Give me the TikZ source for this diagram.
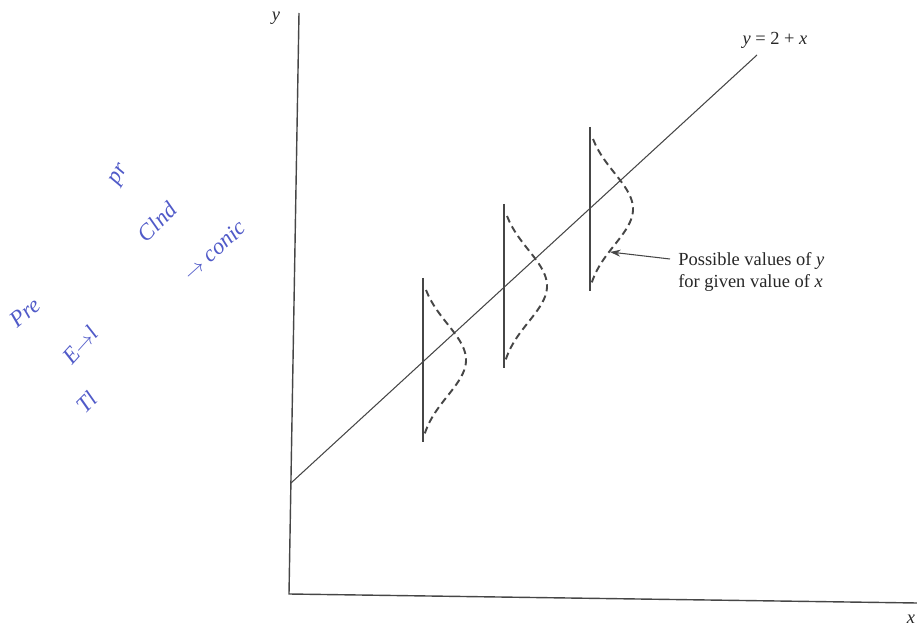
\documentclass[tikz,border=0pt]{standalone}
\usepackage{fontspec}
\setmainfont{Liberation Serif}
\usetikzlibrary{arrows.meta}
\definecolor{ink}{RGB}{70,70,70}
\definecolor{pen}{RGB}{80,90,200}

\begin{document}
\begin{tikzpicture}[x=0.02cm,y=-0.02cm,
		axis/.style={draw=ink,line width=0.8pt},
		bar/.style={draw=ink,line width=1.1pt},
		density/.style={draw=ink,line width=1.1pt,dash pattern=on 4pt off 2.5pt},
		lab/.style={text=black!85,font=\fontsize{10.5}{12.6}\selectfont},
		scribble/.style={text=pen,font=\fontsize{13}{15}\selectfont\itshape}]

	\useasboundingbox (0,0) rectangle (917,628);

	% axes
	\coordinate (O) at (289,594);
	\coordinate (ytop) at (299,13);
	\coordinate (xend) at (917,603);
	\draw[axis] (ytop) -- (O) -- (xend);
	\node[lab] (ylab) at (276,18) {\textit{y}};
	\node[lab] (xlab) at (911,619) {\textit{x}};

	% regression line
	\coordinate (l0) at (291,483);
	\coordinate (l1) at (757,55);
	\draw[draw=ink,line width=0.6pt] (l0) -- (l1);
	\node[lab] (eq) at (775,40) {\textit{y} = 2 + \textit{x}};

	% spread of y at three values of x
	\foreach \bx/\yc [count=\i] in {423/360, 504/286, 590/209}{
		\coordinate (top\i) at (\bx,\yc-82);
		\coordinate (bot\i) at (\bx,\yc+82);
		\draw[bar] (top\i) -- (bot\i);
		\draw[density] plot[domain=-70:76,samples=50,smooth]
			({\bx+3+40*(exp(-0.5*((\x)/36)^2)-0.15)/0.85},{\yc+\x});
	}

	\node[lab,anchor=north west,align=left,inner sep=0pt] (note) at (678,252)
		{Possible values of \textit{y}\\for given value of \textit{x}};
	\coordinate (tail) at (670,259);
	\coordinate (tip) at (610,252);
	\draw[draw=ink,line width=0.6pt,-{Stealth[length=6pt,width=4pt]}] (tail) -- (tip);

	% pen notes in the margin
	\node[scribble,rotate=40] (n1) at (25,313) {Pre};
	\node[scribble,rotate=60] (n2) at (120,175) {pr};
	\node[scribble,rotate=45] (n3) at (157,222) {Clnd};
	\node[scribble,rotate=42] (n4) at (214,250) {$\to$ conic};
	\node[scribble,rotate=48] (n5) at (80,345) {E$\to$l};
	\node[scribble,rotate=45] (n6) at (87,402) {Tl};

\end{tikzpicture}
\end{document}
